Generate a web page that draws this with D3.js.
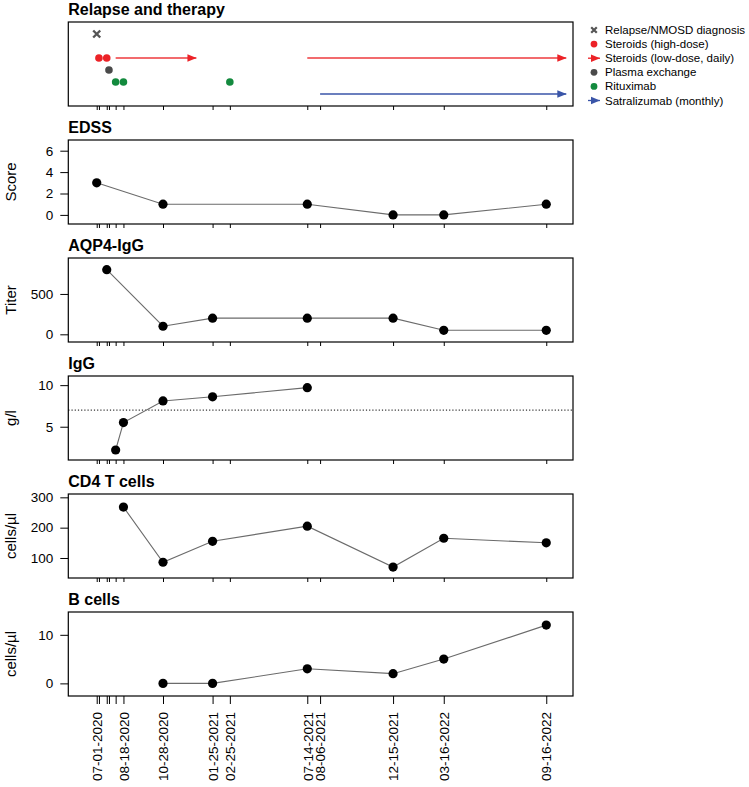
<!DOCTYPE html>
<html>
<head>
<meta charset="utf-8">
<script src="https://cdn.jsdelivr.net/npm/d3@7/dist/d3.min.js"></script>
<style>
  html, body { margin: 0; padding: 0; background: #fff; }
  svg { display: block; font-family: "Liberation Sans", Arial, Helvetica, sans-serif; }
</style>
</head>
<body>
<svg id="chart" width="749" height="787"></svg>
<script>
// ---------- data ----------
const tickDates = ["07-01-2020","07-05-2020","07-19-2020","07-23-2020","08-04-2020","08-18-2020","10-28-2020","01-25-2021","02-25-2021","07-14-2021","08-06-2021","12-15-2021","03-16-2022","09-16-2022"];
const labelDates = ["07-01-2020","08-18-2020","10-28-2020","01-25-2021","02-25-2021","07-14-2021","08-06-2021","12-15-2021","03-16-2022","09-16-2022"];

const relapseDates = ["07-01-2020"];
const steroidHighDates = ["07-05-2020","07-19-2020"];
const steroidLowPeriods = [["08-04-2020","12-27-2020"],["07-14-2021","10-22-2022"]];
const plasmaDates = ["07-23-2020"];
const rituximabDates = ["08-04-2020","08-18-2020","02-25-2021"];
const satralizumabPeriods = [["08-06-2021","10-22-2022"]];

const edssDates = ["07-01-2020","10-28-2020","07-14-2021","12-15-2021","03-16-2022","09-16-2022"];
const edssValues = [3,1,1,0,0,1];
const aqp4Dates = ["07-19-2020","10-28-2020","01-25-2021","07-14-2021","12-15-2021","03-16-2022","09-16-2022"];
const aqp4Values = [800,100,200,200,200,50,50];
const iggDates = ["08-04-2020","08-18-2020","10-28-2020","01-25-2021","07-14-2021"];
const iggValues = [2.2,5.5,8.1,8.6,9.7];
const iggReference = 7;
const cd4Dates = ["08-18-2020","10-28-2020","01-25-2021","07-14-2021","12-15-2021","03-16-2022","09-16-2022"];
const cd4Values = [268,86,155,205,70,165,150];
const bDates = ["10-28-2020","01-25-2021","07-14-2021","12-15-2021","03-16-2022","09-16-2022"];
const bValues = [0,0,3,2,5,12];

const legendLabels = ["Relapse/NMOSD diagnosis","Steroids (high-dose)","Steroids (low-dose, daily)","Plasma exchange","Rituximab","Satralizumab (monthly)"];

// ---------- setup ----------
const parse = d3.timeParse("%m-%d-%Y");
const fmt = d3.timeFormat("%m-%d-%Y");
const svg = d3.select("#chart");

const left = 68.3, right = 573;
const x = d3.scaleTime()
  .domain([parse("05-11-2020"), parse("11-03-2022")])
  .range([left, right]);

const colors = {
  red: "#ec2227", redLine: "#ee3a3d", gray: "#4a4a4a", cross: "#555555",
  green: "#138a3e", blue: "#3a55a8", line: "#6b6b6b"
};

const defs = svg.append("defs");
function marker(id, color) {
  defs.append("marker")
    .attr("id", id).attr("viewBox", "0 0 10 10")
    .attr("refX", 10).attr("refY", 5)
    .attr("markerWidth", 9).attr("markerHeight", 9)
    .attr("markerUnits", "userSpaceOnUse")
    .attr("orient", "auto")
    .append("path").attr("d", "M0,0.8 L10,5 L0,9.2 Z").attr("fill", color);
}
marker("arRed", colors.red);
marker("arBlue", colors.blue);

const pitch = 118, boxH = 84, firstTop = 22;

function panelFrame(i, title, isBottom) {
  const top = firstTop + i * pitch;
  const g = svg.append("g");
  g.append("text").attr("x", left).attr("y", top - 7)
    .attr("font-size", 16).attr("font-weight", "bold").attr("fill", "#000").text(title);
  // x ticks
  const axis = d3.axisBottom(x)
    .tickValues(tickDates.map(parse))
    .tickSize(isBottom ? 8 : 4)
    .tickFormat("");
  const ag = g.append("g").attr("transform", `translate(0,${top + boxH})`).call(axis);
  ag.select(".domain").remove();
  ag.selectAll(".tick line").attr("stroke", "#000").attr("stroke-width", 1);
  if (isBottom) {
    const labels = new Set(labelDates);
    ag.selectAll(".tick").each(function(d) {
      if (labels.has(fmt(d))) {
        d3.select(this).append("text")
          .attr("transform", "translate(0,16) rotate(-90)")
          .attr("text-anchor", "end").attr("dy", "0.35em")
          .attr("font-size", 13.5).attr("fill", "#000")
          .text(fmt(d));
      }
    });
  }
  return { g, top };
}

function drawBox(g, top) {
  g.append("rect").attr("x", left).attr("y", top).attr("width", right - left).attr("height", boxH)
    .attr("fill", "none").attr("stroke", "#000").attr("stroke-width", 1.2);
}

function yAxis(g, y, ticks, label, top) {
  const ax = d3.axisLeft(y).tickValues(ticks).tickSize(8).tickPadding(7).tickFormat(d3.format("d"));
  const ag = g.append("g").attr("transform", `translate(${left},0)`).call(ax);
  ag.select(".domain").remove();
  ag.selectAll(".tick line").attr("stroke", "#000");
  ag.selectAll(".tick text").attr("font-size", 13.5).attr("fill", "#000")
    .attr("font-family", '"Liberation Sans", Arial, sans-serif');
  g.append("text").attr("transform", `translate(16,${top + boxH / 2}) rotate(-90)`)
    .attr("text-anchor", "middle").attr("font-size", 15).attr("fill", "#000").text(label);
}

function linePanel(i, title, label, dates, values, domain, ticks, isBottom, extra) {
  const { g, top } = panelFrame(i, title, isBottom);
  const y = d3.scaleLinear().domain(domain).range([top + boxH, top]);
  if (extra) extra(g, y);
  const pts = dates.map((d, k) => [x(parse(d)), y(values[k])]);
  g.append("path").attr("d", d3.line()(pts)).attr("fill", "none")
    .attr("stroke", colors.line).attr("stroke-width", 1.1);
  g.selectAll("circle.pt").data(pts).enter().append("circle")
    .attr("cx", d => d[0]).attr("cy", d => d[1]).attr("r", 4.6).attr("fill", "#000");
  drawBox(g, top);
  yAxis(g, y, ticks, label, top);
}

// ---------- panel 0: relapse and therapy ----------
(function() {
  const { g, top } = panelFrame(0, "Relapse and therapy", false);
  const y = d3.scaleLinear().domain([0, 7]).range([top + boxH, top]);
  const rowRelapse = 6, rowSteroid = 4, rowPlasma = 3, rowRitux = 2, rowSatra = 1;
  const cross = d3.symbol().type(d3.symbolX).size(34);
  relapseDates.forEach(d => {
    g.append("path").attr("d", cross()).attr("transform", `translate(${x(parse(d))},${y(rowRelapse)})`)
      .attr("fill", "none").attr("stroke", colors.cross).attr("stroke-width", 2.4);
  });
  steroidLowPeriods.forEach(p => {
    g.append("line").attr("x1", x(parse(p[0]))).attr("x2", x(parse(p[1])))
      .attr("y1", y(rowSteroid)).attr("y2", y(rowSteroid))
      .attr("stroke", colors.redLine).attr("stroke-width", 1.4).attr("marker-end", "url(#arRed)");
  });
  satralizumabPeriods.forEach(p => {
    g.append("line").attr("x1", x(parse(p[0]))).attr("x2", x(parse(p[1])))
      .attr("y1", y(rowSatra)).attr("y2", y(rowSatra))
      .attr("stroke", colors.blue).attr("stroke-width", 1.4).attr("marker-end", "url(#arBlue)");
  });
  steroidHighDates.forEach(d => g.append("circle").attr("cx", x(parse(d))).attr("cy", y(rowSteroid)).attr("r", 3.8).attr("fill", colors.red));
  plasmaDates.forEach(d => g.append("circle").attr("cx", x(parse(d))).attr("cy", y(rowPlasma)).attr("r", 3.8).attr("fill", colors.gray));
  rituximabDates.forEach(d => g.append("circle").attr("cx", x(parse(d))).attr("cy", y(rowRitux)).attr("r", 3.8).attr("fill", colors.green));
  drawBox(g, top);

  // legend
  const lx = 594, ly0 = 30, ldy = 14.1;
  const lg = svg.append("g");
  legendLabels.forEach((t, k) => {
    const yy = ly0 + k * ldy;
    if (k === 0) {
      lg.append("path").attr("d", d3.symbol().type(d3.symbolX).size(22)()).attr("transform", `translate(${lx},${yy})`)
        .attr("stroke", colors.cross).attr("stroke-width", 2.2).attr("fill", "none");
    } else if (k === 2 || k === 5) {
      const c = k === 2 ? colors.red : colors.blue;
      lg.append("line").attr("x1", lx - 6).attr("x2", lx + 6).attr("y1", yy).attr("y2", yy)
        .attr("stroke", c).attr("stroke-width", 1.3).attr("marker-end", k === 2 ? "url(#arRed)" : "url(#arBlue)");
    } else {
      const c = k === 1 ? colors.red : (k === 3 ? colors.gray : colors.green);
      lg.append("circle").attr("cx", lx).attr("cy", yy).attr("r", 3.4).attr("fill", c);
    }
    lg.append("text").attr("x", 605).attr("y", yy).attr("dy", "0.35em")
      .attr("font-size", 11.5).attr("fill", "#000").text(t);
  });
})();

// ---------- other panels ----------
linePanel(1, "EDSS", "Score", edssDates, edssValues, [-0.85, 7.0], [0, 2, 4, 6], false);
linePanel(2, "AQP4-IgG", "Titer", aqp4Dates, aqp4Values, [-95, 945], [0, 500], false);
linePanel(3, "IgG", "g/l", iggDates, iggValues, [1.0, 11.1], [5, 10], false, (g, y) => {
  g.append("line").attr("x1", left).attr("x2", right).attr("y1", y(iggReference)).attr("y2", y(iggReference))
    .attr("stroke", "#000").attr("stroke-width", 1).attr("stroke-dasharray", "1.2,2");
});
linePanel(4, "CD4 T cells", "cells/µl", cd4Dates, cd4Values, [34, 311], [100, 200, 300], false);
linePanel(5, "B cells", "cells/µl", bDates, bValues, [-2.6, 14.7], [0, 10], true);
</script>
</body>
</html>
